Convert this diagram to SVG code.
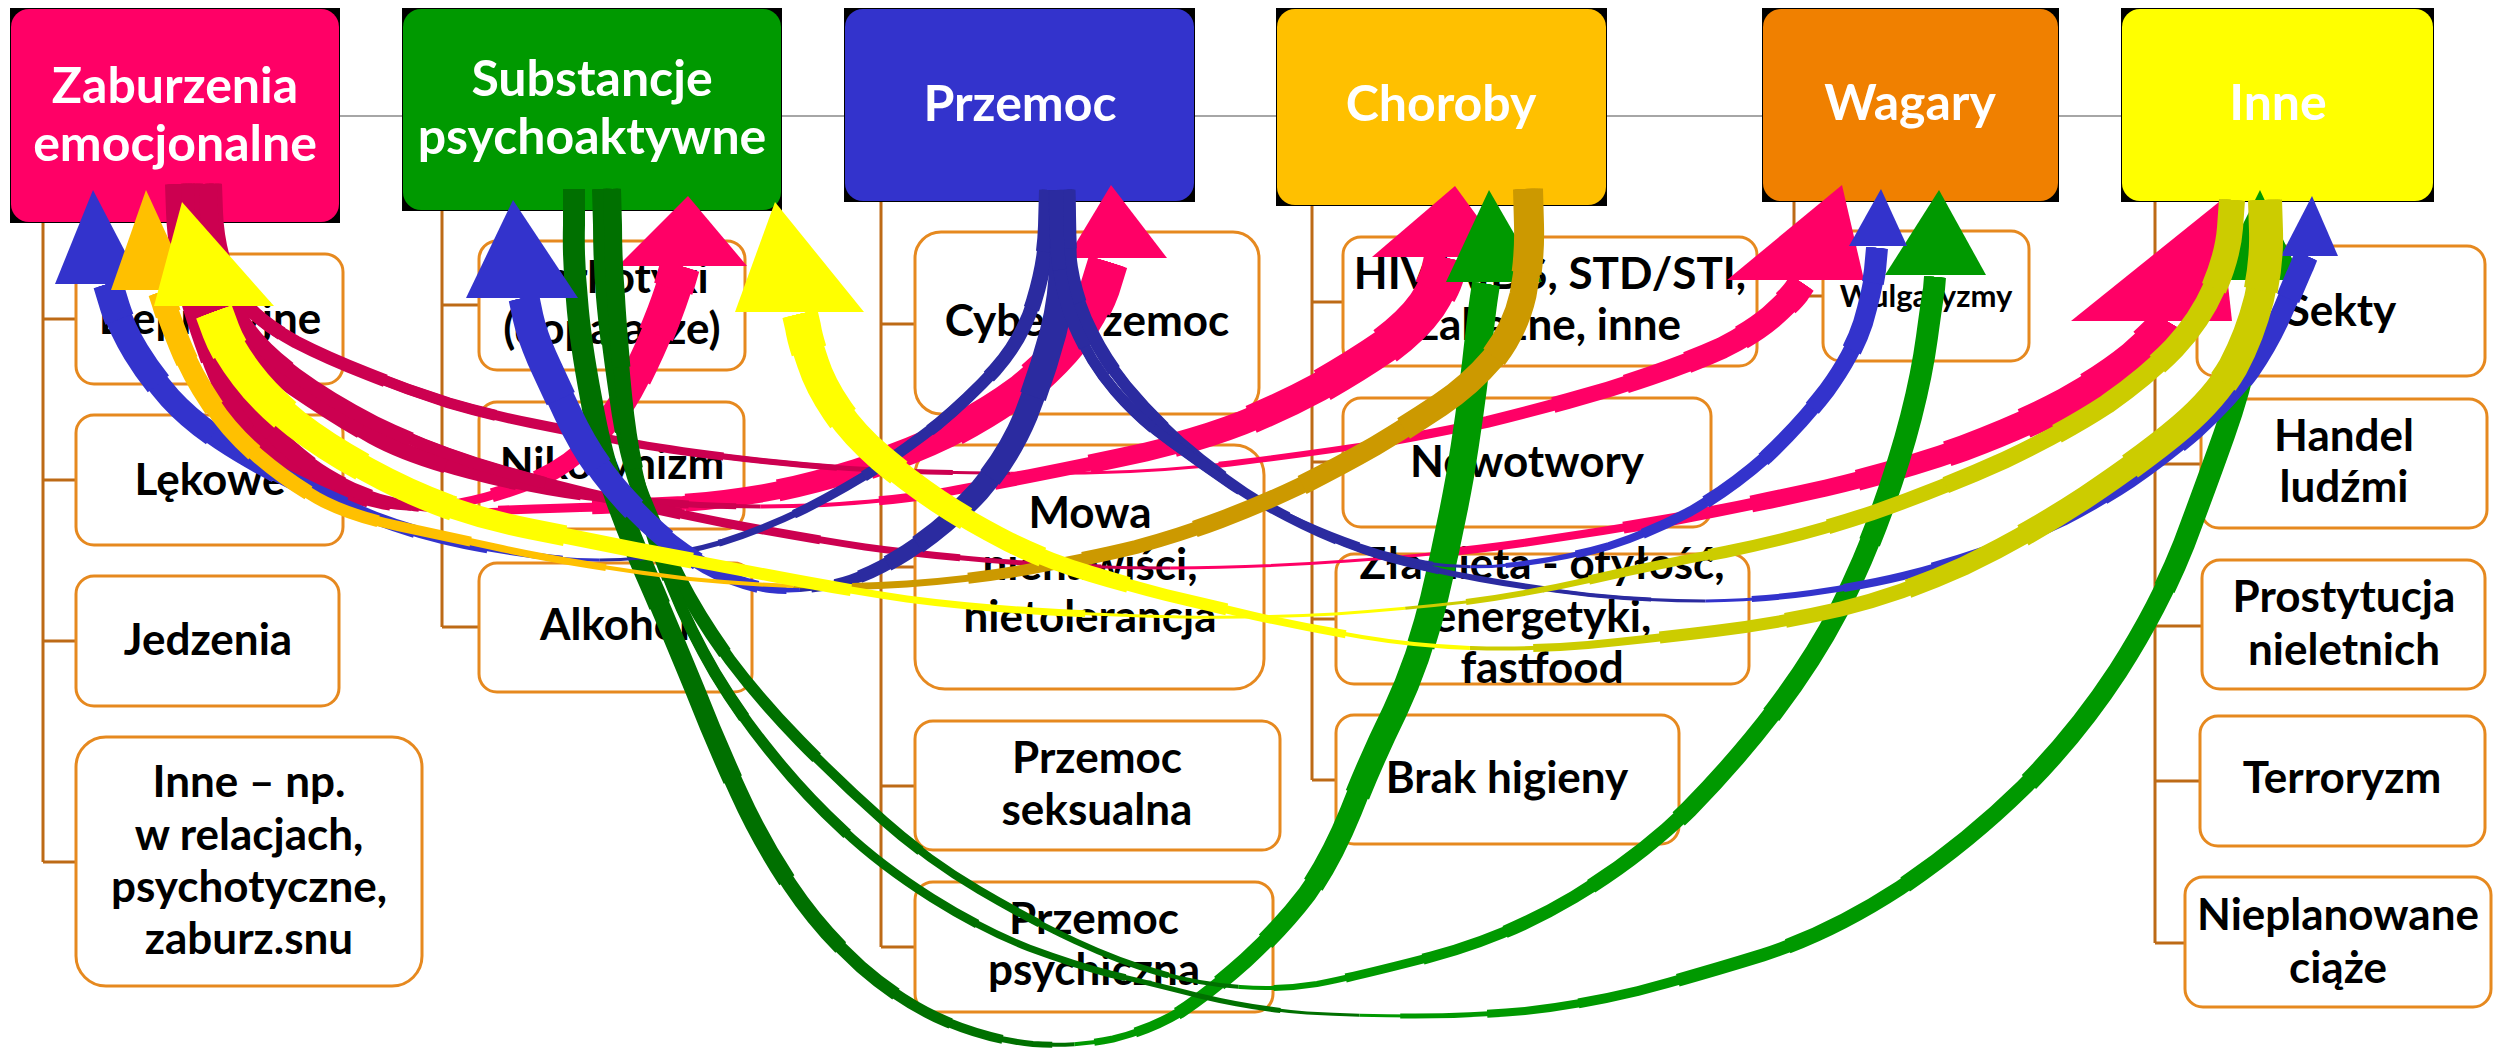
<svg xmlns="http://www.w3.org/2000/svg" width="2496" height="1048" viewBox="0 0 2496 1048">
<style>
text{font-family:Lato,"Open Sans","Liberation Sans",sans-serif;font-weight:700}
.hd{fill:#fff;font-size:50px;text-anchor:middle}
.ch{fill:#000;font-size:44px;text-anchor:middle}
.box{fill:#fff;stroke:#E6891F;stroke-width:3}
.tree{stroke:#BD6A16;stroke-width:3;fill:none}
.rb use{fill:none;stroke-linecap:butt}
.ps{stroke:#CC0050}.ph{stroke:#FF0066}.phf{fill:#FF0066}
.bs{stroke:#2B2BA0}.bh{stroke:#3333CC}.bhf{fill:#3333CC}
.gs{stroke:#007000}.gh{stroke:#009900}.ghf{fill:#009900}
.os{stroke:#CC9900}.oh{stroke:#FFC000}.ohf{fill:#FFC000}
.ys{stroke:#CCCC00}.yh{stroke:#FFFF00}.yhf{fill:#FFFF00}
</style>
<defs>
<path id="aP1" pathLength="100" d="M180,184 L181,212 Q182,240 189,273 Q196,305 213,352 Q229,399 258,432 Q286,464 317,481 Q347,497 384,504 Q420,510 460,503 Q500,495 536,480 Q571,464 596,437 Q620,410 635,380 Q650,350 660,325 Q670,300 675,283 L680,266"/>
<path id="aP2" pathLength="100" d="M192,184 L193,212 Q194,240 201,273 Q208,305 224,350 Q240,395 270,429 Q300,462 335,481 Q370,500 410,506 Q450,512 505,510 Q560,508 601,507 Q642,505 683,503 Q723,500 764,493 Q805,486 856,470 Q907,454 948,434 Q989,413 1020,390 Q1050,366 1071,340 Q1091,313 1100,288 L1108,262"/>
<path id="aP5" pathLength="100" d="M204,184 L205,212 Q206,240 214,270 Q222,300 237,329 Q252,358 294,387 Q335,415 372,436 Q408,456 470,472 Q531,488 586,495 Q640,502 700,505 Q760,508 824,505 Q887,501 928,495 Q968,488 1030,476 Q1091,464 1146,452 Q1201,439 1242,423 Q1282,407 1319,387 Q1356,366 1385,346 Q1413,325 1427,305 Q1440,285 1443,272 L1446,258"/>
<path id="aP3" pathLength="100" d="M214,184 L215,212 Q216,240 224,265 Q232,290 249,308 Q265,325 296,342 Q327,358 368,374 Q408,390 449,403 Q490,415 531,423 Q571,431 626,442 Q680,452 763,461 Q846,470 928,472 Q1009,474 1085,473 Q1160,472 1242,462 Q1323,452 1385,442 Q1446,431 1487,422 Q1527,412 1568,401 Q1609,390 1650,376 Q1691,362 1722,348 Q1752,333 1771,317 Q1790,300 1796,292 L1802,283"/>
<path id="aP4" pathLength="100" d="M208,184 L209,212 Q210,240 218,269 Q226,298 244,324 Q262,350 296,375 Q330,400 375,423 Q420,445 475,463 Q530,480 590,494 Q650,508 725,523 Q800,537 865,547 Q930,556 1010,562 Q1090,568 1170,568 Q1250,568 1348,561 Q1446,554 1523,543 Q1600,532 1675,519 Q1750,505 1826,488 Q1902,470 1964,448 Q2025,425 2066,403 Q2107,380 2134,358 Q2160,335 2164,329 L2168,322"/>
<path id="aG1" pathLength="100" d="M574,189 L574,225 Q573,260 577,300 Q580,340 591,398 Q601,456 617,501 Q633,545 654,592 Q674,639 695,690 Q715,741 738,791 Q760,840 790,885 Q820,930 861,967 Q902,1003 947,1022 Q991,1040 1033,1044 Q1075,1047 1113,1039 Q1150,1030 1180,1012 Q1209,993 1246,960 Q1282,927 1307,894 Q1331,860 1351,811 Q1370,762 1395,711 Q1419,660 1434,599 Q1449,537 1460,476 Q1470,415 1476,363 Q1482,310 1484,297 L1486,284"/>
<path id="aG2" pathLength="100" d="M602,189 L603,225 Q603,260 606,297 Q609,333 618,395 Q626,456 642,497 Q658,537 679,578 Q700,619 730,660 Q760,700 800,741 Q840,782 884,821 Q928,860 979,890 Q1030,920 1075,941 Q1120,962 1160,973 Q1199,984 1240,987 Q1280,990 1317,984 Q1354,977 1431,957 Q1507,937 1574,897 Q1640,857 1689,809 Q1737,760 1775,710 Q1813,660 1839,610 Q1864,560 1882,510 Q1900,460 1911,417 Q1922,374 1927,337 Q1932,300 1934,289 L1935,277"/>
<path id="aG3" pathLength="100" d="M612,189 L613,225 Q613,260 616,297 Q618,333 624,395 Q630,456 643,501 Q655,545 673,588 Q690,630 715,673 Q740,715 773,755 Q805,795 843,830 Q880,865 932,898 Q983,930 1029,948 Q1075,965 1110,974 Q1145,982 1200,996 Q1254,1009 1307,1013 Q1360,1016 1415,1016 Q1470,1016 1525,1011 Q1580,1005 1638,991 Q1695,976 1763,955 Q1831,933 1900,888 Q1968,842 2023,788 Q2077,734 2118,671 Q2159,607 2184,544 Q2208,480 2224,435 Q2240,390 2248,350 Q2256,310 2258,296 L2260,282"/>
<path id="aB1" pathLength="100" d="M1048,190 L1047,226 Q1046,262 1034,301 Q1022,340 995,370 Q968,399 938,424 Q907,448 877,468 Q846,488 805,509 Q764,529 723,542 Q682,554 641,558 Q600,562 555,558 Q510,553 465,544 Q420,535 375,518 Q330,500 290,480 Q250,460 220,440 Q190,420 170,398 Q150,375 136,352 Q122,329 115,307 L108,284"/>
<path id="aB2" pathLength="100" d="M1062,190 L1063,241 Q1064,292 1053,333 Q1042,374 1026,415 Q1009,456 979,491 Q948,525 907,552 Q866,578 833,585 Q800,592 770,589 Q740,585 707,567 Q674,548 648,523 Q621,497 603,473 Q584,448 568,414 Q552,380 542,358 Q532,335 528,317 L524,298"/>
<path id="aB3" pathLength="100" d="M1066,190 L1067,235 Q1068,280 1085,319 Q1102,357 1126,386 Q1150,415 1180,442 Q1210,468 1245,492 Q1280,515 1330,535 Q1380,555 1425,563 Q1470,570 1519,564 Q1568,558 1609,546 Q1650,533 1691,511 Q1731,488 1766,457 Q1800,425 1827,390 Q1853,354 1863,323 Q1872,292 1875,270 L1877,248"/>
<path id="aB4" pathLength="100" d="M1056,190 L1057,238 Q1058,285 1074,324 Q1090,362 1115,391 Q1140,420 1171,442 Q1201,464 1232,485 Q1262,505 1303,525 Q1344,545 1387,558 Q1430,570 1480,579 Q1530,588 1590,595 Q1650,601 1705,601 Q1760,600 1811,593 Q1862,586 1903,576 Q1943,566 1984,552 Q2025,537 2063,519 Q2100,500 2130,480 Q2160,460 2195,430 Q2229,399 2250,370 Q2270,341 2284,308 Q2298,275 2302,266 L2306,256"/>
<path id="aO" pathLength="100" d="M1528,189 L1529,225 Q1530,260 1523,295 Q1515,330 1493,358 Q1470,385 1440,405 Q1410,425 1375,446 Q1340,466 1300,486 Q1260,505 1220,520 Q1180,535 1136,547 Q1091,558 1030,569 Q968,580 907,584 Q846,588 793,586 Q740,584 690,579 Q640,573 590,565 Q540,557 495,547 Q449,537 398,526 Q347,515 317,498 Q286,480 258,456 Q229,431 211,403 Q192,375 180,345 Q168,315 165,304 L161,292"/>
<path id="aY1" pathLength="100" d="M2232,200 L2230,228 Q2228,255 2214,288 Q2200,320 2174,348 Q2147,376 2107,404 Q2066,431 2005,460 Q1943,488 1872,513 Q1800,537 1725,552 Q1650,566 1589,580 Q1527,594 1466,602 Q1405,609 1335,614 Q1264,618 1182,617 Q1100,615 1034,611 Q968,607 907,599 Q846,590 773,576 Q700,562 636,550 Q571,537 531,529 Q490,521 449,507 Q408,492 368,470 Q327,448 296,424 Q265,399 247,375 Q228,350 221,331 L214,312"/>
<path id="aY2" pathLength="100" d="M2265,200 L2266,231 Q2267,262 2259,299 Q2250,335 2233,367 Q2215,398 2181,427 Q2147,456 2086,497 Q2025,537 1964,566 Q1902,594 1841,609 Q1780,623 1715,631 Q1650,639 1588,645 Q1525,650 1471,648 Q1416,646 1362,637 Q1308,628 1254,616 Q1200,603 1166,595 Q1131,586 1091,574 Q1050,562 1009,542 Q968,521 938,501 Q907,480 881,458 Q854,435 837,410 Q820,385 813,363 Q805,340 803,327 L800,314"/>
</defs>
<rect width="2496" height="1048" fill="#fff"/>
<g id="connectors-tree">
<path d="M340,116 H2121" stroke="#A6A6A6" stroke-width="2"/>
<path class="tree" d="M43,223 V862 M43,319 H76 M43,480 H76 M43,641 H76 M43,862 H76 M442,211 V627 M442,305 H479 M442,466 H479 M442,627 H479 M881,202 V947 M881,324 H915 M881,567 H915 M881,786 H915 M881,947 H915 M1312,206 V780 M1312,302 H1343 M1312,462 H1343 M1312,619 H1336 M1312,780 H1336 M1794,202 V296 H1823 M2155,202 V943 M2155,311 H2197 M2155,464 H2201 M2155,626 H2202 M2155,781 H2200 M2155,943 H2185"/>
</g>
<g id="node-zaburzenia"><rect x="10" y="8" width="330" height="215" fill="#000"/><rect x="11" y="9" width="328" height="213" rx="18" fill="#FF0066"/><text class="hd" x="175" y="103">Zaburzenia</text><text class="hd" x="175" y="161">emocjonalne</text></g>
<g id="node-substancje"><rect x="402" y="8" width="380" height="203" fill="#000"/><rect x="403" y="9" width="378" height="201" rx="18" fill="#009900"/><text class="hd" x="592" y="96">Substancje</text><text class="hd" x="592" y="154">psychoaktywne</text></g>
<g id="node-przemoc"><rect x="844" y="8" width="351" height="194" fill="#000"/><rect x="845" y="9" width="349" height="192" rx="18" fill="#3333CC"/><text class="hd" x="1020" y="121">Przemoc</text></g>
<g id="node-choroby"><rect x="1276" y="8" width="331" height="198" fill="#000"/><rect x="1277" y="9" width="329" height="196" rx="18" fill="#FFC000"/><text class="hd" x="1441" y="121">Choroby</text></g>
<g id="node-wagary"><rect x="1762" y="8" width="297" height="194" fill="#000"/><rect x="1763" y="9" width="295" height="192" rx="18" fill="#F08000"/><text class="hd" x="1910" y="120">Wagary</text></g>
<g id="node-inne"><rect x="2121" y="8" width="313" height="194" fill="#000"/><rect x="2122" y="9" width="311" height="192" rx="18" fill="#FFFF00"/><text class="hd" x="2278" y="120">Inne</text></g>

<g id="node-depresyjne"><rect class="box" x="76" y="254" width="267" height="130" rx="18"/><text class="ch" x="210" y="334">Depresyjne</text></g>
<g id="node-lekowe"><rect class="box" x="76" y="415" width="267" height="130" rx="18"/><text class="ch" x="210" y="495">Lękowe</text></g>
<g id="node-jedzenia"><rect class="box" x="76" y="576" width="263" height="130" rx="18"/><text class="ch" x="208" y="655">Jedzenia</text></g>
<g id="node-inne-np"><rect class="box" x="76" y="737" width="346" height="249" rx="30"/><text class="ch" x="249" y="797">Inne – np.</text><text class="ch" x="249" y="850">w relacjach,</text><text class="ch" x="249" y="902">psychotyczne,</text><text class="ch" x="249" y="954">zaburz.snu</text></g>
<g id="node-narkotyki"><rect class="box" x="479" y="241" width="266" height="129" rx="18"/><text class="ch" x="612" y="293">Narkotyki</text><text class="ch" x="612" y="344">(dopalacze)</text></g>
<g id="node-nikotynizm"><rect class="box" x="479" y="402" width="265" height="127" rx="18"/><text class="ch" x="612" y="479">Nikotynizm</text></g>
<g id="node-alkohol"><rect class="box" x="479" y="563" width="273" height="129" rx="18"/><text class="ch" x="615" y="640">Alkohol</text></g>
<g id="node-cyber"><rect class="box" x="915" y="232" width="344" height="182" rx="26"/><text class="ch" x="1087" y="336">Cyberprzemoc</text></g>
<g id="node-mowa"><rect class="box" x="915" y="445" width="349" height="244" rx="30"/><text class="ch" x="1090" y="528">Mowa</text><text class="ch" x="1090" y="580">nienawiści,</text><text class="ch" x="1090" y="632">nietolerancja</text></g>
<g id="node-seksualna"><rect class="box" x="915" y="721" width="365" height="129" rx="18"/><text class="ch" x="1097" y="773">Przemoc</text><text class="ch" x="1097" y="825">seksualna</text></g>
<g id="node-psychiczna"><rect class="box" x="915" y="882" width="358" height="130" rx="18"/><text class="ch" x="1094" y="934">Przemoc</text><text class="ch" x="1094" y="985">psychiczna</text></g>
<g id="node-hiv"><rect class="box" x="1343" y="237" width="414" height="129" rx="18"/><text class="ch" x="1550" y="289">HIV/AIDS, STD/STI,</text><text class="ch" x="1550" y="340">zakaźne, inne</text></g>
<g id="node-nowotwory"><rect class="box" x="1343" y="398" width="368" height="129" rx="18"/><text class="ch" x="1527" y="477">Nowotwory</text></g>
<g id="node-dieta"><rect class="box" x="1336" y="554" width="413" height="130" rx="18"/><text class="ch" x="1542" y="579">Zła dieta - otyłość,</text><text class="ch" x="1542" y="632">energetyki,</text><text class="ch" x="1542" y="683">fastfood</text></g>
<g id="node-higiena"><rect class="box" x="1336" y="715" width="343" height="129" rx="18"/><text class="ch" x="1507" y="793">Brak higieny</text></g>
<g id="node-wulgaryzmy"><rect class="box" x="1823" y="231" width="206" height="130" rx="18"/><text class="ch" x="1926" y="307" style="font-size:31px">Wulgaryzmy</text></g>
<g id="node-sekty"><rect class="box" x="2197" y="246" width="288" height="130" rx="18"/><text class="ch" x="2341" y="326">Sekty</text></g>
<g id="node-handel"><rect class="box" x="2201" y="399" width="286" height="129" rx="18"/><text class="ch" x="2344" y="451">Handel</text><text class="ch" x="2344" y="502">ludźmi</text></g>
<g id="node-prostytucja"><rect class="box" x="2202" y="560" width="283" height="129" rx="18"/><text class="ch" x="2344" y="612">Prostytucja</text><text class="ch" x="2344" y="665">nieletnich</text></g>
<g id="node-terroryzm"><rect class="box" x="2200" y="716" width="285" height="130" rx="18"/><text class="ch" x="2342" y="793">Terroryzm</text></g>
<g id="node-nieplanowane"><rect class="box" x="2185" y="877" width="306" height="130" rx="18"/><text class="ch" x="2338" y="930">Nieplanowane</text><text class="ch" x="2338" y="983">ciąże</text></g>

<g id="connectors-arrows" class="rb">
<g id="arrow-zab-sub">
<g class="ps"><use href="#aP1" stroke-width="5" stroke-dasharray="53.8 200"/><use href="#aP1" stroke-width="8" stroke-dasharray="52.7 200"/><use href="#aP1" stroke-width="11" stroke-dasharray="50.2 200"/><use href="#aP1" stroke-width="14" stroke-dasharray="47.5 200"/><use href="#aP1" stroke-width="18" stroke-dasharray="44.4 200"/><use href="#aP1" stroke-width="21" stroke-dasharray="40.8 200"/><use href="#aP1" stroke-width="24" stroke-dasharray="36.5 200"/><use href="#aP1" stroke-width="27" stroke-dasharray="30.8 200"/><use href="#aP1" stroke-width="30" stroke-dasharray="21.4 200"/></g>
<g class="ph"><use href="#aP1" stroke-width="5" stroke-dasharray="0 53.8 200"/><use href="#aP1" stroke-width="9" stroke-dasharray="0 56.7 200"/><use href="#aP1" stroke-width="14" stroke-dasharray="0 62.5 200"/><use href="#aP1" stroke-width="18" stroke-dasharray="0 68.2 200"/><use href="#aP1" stroke-width="22" stroke-dasharray="0 74 200"/><use href="#aP1" stroke-width="27" stroke-dasharray="0 79.8 200"/><use href="#aP1" stroke-width="31" stroke-dasharray="0 85.6 200"/><use href="#aP1" stroke-width="36" stroke-dasharray="0 91.3 200"/><use href="#aP1" stroke-width="40" stroke-dasharray="0 97.1 200"/></g>
<polygon class="phf" points="618,266 747,266 688,196"/>
</g>
<g id="arrow-zab-prz">
<g class="ps"><use href="#aP2" stroke-width="5" stroke-dasharray="38.3 200"/><use href="#aP2" stroke-width="7" stroke-dasharray="37.5 200"/><use href="#aP2" stroke-width="9" stroke-dasharray="35.7 200"/><use href="#aP2" stroke-width="11" stroke-dasharray="33.8 200"/><use href="#aP2" stroke-width="14" stroke-dasharray="31.6 200"/><use href="#aP2" stroke-width="16" stroke-dasharray="29.1 200"/><use href="#aP2" stroke-width="18" stroke-dasharray="26 200"/><use href="#aP2" stroke-width="20" stroke-dasharray="21.9 200"/><use href="#aP2" stroke-width="22" stroke-dasharray="15.2 200"/></g>
<g class="ph"><use href="#aP2" stroke-width="5" stroke-dasharray="0 38.3 200"/><use href="#aP2" stroke-width="9" stroke-dasharray="0 42.2 200"/><use href="#aP2" stroke-width="14" stroke-dasharray="0 49.9 200"/><use href="#aP2" stroke-width="18" stroke-dasharray="0 57.6 200"/><use href="#aP2" stroke-width="22" stroke-dasharray="0 65.3 200"/><use href="#aP2" stroke-width="27" stroke-dasharray="0 73 200"/><use href="#aP2" stroke-width="31" stroke-dasharray="0 80.7 200"/><use href="#aP2" stroke-width="36" stroke-dasharray="0 88.4 200"/><use href="#aP2" stroke-width="40" stroke-dasharray="0 96.1 200"/></g>
<polygon class="phf" points="1067,258 1167,258 1111,185"/>
</g>
<g id="arrow-zab-cho">
<g class="ps"><use href="#aP5" stroke-width="4" stroke-dasharray="48.6 200"/><use href="#aP5" stroke-width="6" stroke-dasharray="47 200"/><use href="#aP5" stroke-width="8" stroke-dasharray="43.8 200"/><use href="#aP5" stroke-width="10" stroke-dasharray="40.3 200"/><use href="#aP5" stroke-width="12" stroke-dasharray="36.5 200"/><use href="#aP5" stroke-width="14" stroke-dasharray="32.1 200"/><use href="#aP5" stroke-width="16" stroke-dasharray="27.2 200"/><use href="#aP5" stroke-width="18" stroke-dasharray="21 200"/><use href="#aP5" stroke-width="20" stroke-dasharray="12.2 200"/></g>
<g class="ph"><use href="#aP5" stroke-width="4" stroke-dasharray="0 48.6 200"/><use href="#aP5" stroke-width="9" stroke-dasharray="0 56.6 200"/><use href="#aP5" stroke-width="14" stroke-dasharray="0 64.5 200"/><use href="#aP5" stroke-width="19" stroke-dasharray="0 71 200"/><use href="#aP5" stroke-width="24" stroke-dasharray="0 76.8 200"/><use href="#aP5" stroke-width="29" stroke-dasharray="0 82.3 200"/><use href="#aP5" stroke-width="34" stroke-dasharray="0 87.6 200"/><use href="#aP5" stroke-width="39" stroke-dasharray="0 92.6 200"/><use href="#aP5" stroke-width="44" stroke-dasharray="0 97.6 200"/></g>
<polygon class="phf" points="1372,257 1507,257 1455,186"/>
</g>
<g id="arrow-zab-wag">
<g class="ps"><use href="#aP3" stroke-width="3" stroke-dasharray="52.6 200"/><use href="#aP3" stroke-width="5" stroke-dasharray="49.3 200"/><use href="#aP3" stroke-width="6" stroke-dasharray="42.7 200"/><use href="#aP3" stroke-width="8" stroke-dasharray="36.2 200"/><use href="#aP3" stroke-width="10" stroke-dasharray="29.6 200"/><use href="#aP3" stroke-width="11" stroke-dasharray="23 200"/><use href="#aP3" stroke-width="13" stroke-dasharray="16.4 200"/><use href="#aP3" stroke-width="14" stroke-dasharray="9.9 200"/><use href="#aP3" stroke-width="16" stroke-dasharray="5 200"/></g>
<g class="ph"><use href="#aP3" stroke-width="3" stroke-dasharray="0 52.6 200"/><use href="#aP3" stroke-width="6" stroke-dasharray="0 64.5 200"/><use href="#aP3" stroke-width="9" stroke-dasharray="0 73.1 200"/><use href="#aP3" stroke-width="12" stroke-dasharray="0 79.1 200"/><use href="#aP3" stroke-width="16" stroke-dasharray="0 83.9 200"/><use href="#aP3" stroke-width="19" stroke-dasharray="0 88.2 200"/><use href="#aP3" stroke-width="22" stroke-dasharray="0 91.9 200"/><use href="#aP3" stroke-width="25" stroke-dasharray="0 95.3 200"/><use href="#aP3" stroke-width="28" stroke-dasharray="0 98.5 200"/></g>
<polygon class="phf" points="1727,280 1864,280 1842,185"/>
</g>
<g id="arrow-zab-inn">
<g class="ps"><use href="#aP4" stroke-width="3" stroke-dasharray="51.8 200"/><use href="#aP4" stroke-width="5" stroke-dasharray="48.6 200"/><use href="#aP4" stroke-width="7" stroke-dasharray="42.1 200"/><use href="#aP4" stroke-width="9" stroke-dasharray="35.6 200"/><use href="#aP4" stroke-width="11" stroke-dasharray="29.1 200"/><use href="#aP4" stroke-width="12" stroke-dasharray="22.7 200"/><use href="#aP4" stroke-width="14" stroke-dasharray="16.2 200"/><use href="#aP4" stroke-width="16" stroke-dasharray="9.7 200"/><use href="#aP4" stroke-width="18" stroke-dasharray="4 200"/></g>
<g class="ph"><use href="#aP4" stroke-width="3" stroke-dasharray="0 51.8 200"/><use href="#aP4" stroke-width="8" stroke-dasharray="0 63.9 200"/><use href="#aP4" stroke-width="12" stroke-dasharray="0 72.7 200"/><use href="#aP4" stroke-width="17" stroke-dasharray="0 78.7 200"/><use href="#aP4" stroke-width="21" stroke-dasharray="0 83.7 200"/><use href="#aP4" stroke-width="26" stroke-dasharray="0 88 200"/><use href="#aP4" stroke-width="31" stroke-dasharray="0 91.8 200"/><use href="#aP4" stroke-width="35" stroke-dasharray="0 95.2 200"/><use href="#aP4" stroke-width="40" stroke-dasharray="0 98.5 200"/></g>
<polygon class="phf" points="2071,321 2232,321 2219,202"/>
</g>

<g id="arrow-sub-cho">
<g class="gs"><use href="#aG1" stroke-width="4" stroke-dasharray="53.8 200"/><use href="#aG1" stroke-width="6" stroke-dasharray="52.7 200"/><use href="#aG1" stroke-width="9" stroke-dasharray="50.2 200"/><use href="#aG1" stroke-width="11" stroke-dasharray="47.5 200"/><use href="#aG1" stroke-width="13" stroke-dasharray="44.4 200"/><use href="#aG1" stroke-width="15" stroke-dasharray="40.8 200"/><use href="#aG1" stroke-width="18" stroke-dasharray="36.5 200"/><use href="#aG1" stroke-width="20" stroke-dasharray="30.8 200"/><use href="#aG1" stroke-width="22" stroke-dasharray="21.4 200"/></g>
<g class="gh"><use href="#aG1" stroke-width="4" stroke-dasharray="0 53.8 200"/><use href="#aG1" stroke-width="7" stroke-dasharray="0 54.8 200"/><use href="#aG1" stroke-width="10" stroke-dasharray="0 56.9 200"/><use href="#aG1" stroke-width="13" stroke-dasharray="0 59.2 200"/><use href="#aG1" stroke-width="16" stroke-dasharray="0 61.8 200"/><use href="#aG1" stroke-width="19" stroke-dasharray="0 64.9 200"/><use href="#aG1" stroke-width="22" stroke-dasharray="0 68.6 200"/><use href="#aG1" stroke-width="25" stroke-dasharray="0 73.6 200"/><use href="#aG1" stroke-width="28" stroke-dasharray="0 81.7 200"/></g>
<polygon class="ghf" points="1446,282 1542,282 1489,190"/>
</g>
<g id="arrow-sub-wag">
<g class="gs"><use href="#aG2" stroke-width="4" stroke-dasharray="50.5 200"/><use href="#aG2" stroke-width="6" stroke-dasharray="47.3 200"/><use href="#aG2" stroke-width="8" stroke-dasharray="41 200"/><use href="#aG2" stroke-width="10" stroke-dasharray="34.7 200"/><use href="#aG2" stroke-width="12" stroke-dasharray="28.4 200"/><use href="#aG2" stroke-width="14" stroke-dasharray="22.1 200"/><use href="#aG2" stroke-width="16" stroke-dasharray="15.8 200"/><use href="#aG2" stroke-width="18" stroke-dasharray="11 200"/><use href="#aG2" stroke-width="20" stroke-dasharray="7 200"/></g>
<g class="gh"><use href="#aG2" stroke-width="4" stroke-dasharray="0 50.5 200"/><use href="#aG2" stroke-width="6" stroke-dasharray="0 52.1 200"/><use href="#aG2" stroke-width="9" stroke-dasharray="0 55.4 200"/><use href="#aG2" stroke-width="11" stroke-dasharray="0 59 200"/><use href="#aG2" stroke-width="13" stroke-dasharray="0 62.9 200"/><use href="#aG2" stroke-width="15" stroke-dasharray="0 67.3 200"/><use href="#aG2" stroke-width="18" stroke-dasharray="0 72.3 200"/><use href="#aG2" stroke-width="20" stroke-dasharray="0 78.6 200"/><use href="#aG2" stroke-width="22" stroke-dasharray="0 87.6 200"/></g>
<polygon class="ghf" points="1885,275 1986,275 1939,190"/>
</g>
<g id="arrow-sub-inn">
<g class="gs"><use href="#aG3" stroke-width="3" stroke-dasharray="49.5 200"/><use href="#aG3" stroke-width="5" stroke-dasharray="46.4 200"/><use href="#aG3" stroke-width="7" stroke-dasharray="40.2 200"/><use href="#aG3" stroke-width="9" stroke-dasharray="34 200"/><use href="#aG3" stroke-width="11" stroke-dasharray="27.8 200"/><use href="#aG3" stroke-width="12" stroke-dasharray="21.7 200"/><use href="#aG3" stroke-width="14" stroke-dasharray="15.5 200"/><use href="#aG3" stroke-width="16" stroke-dasharray="11 200"/><use href="#aG3" stroke-width="18" stroke-dasharray="7 200"/></g>
<g class="gh"><use href="#aG3" stroke-width="3" stroke-dasharray="0 49.5 200"/><use href="#aG3" stroke-width="5" stroke-dasharray="0 51.1 200"/><use href="#aG3" stroke-width="8" stroke-dasharray="0 54.5 200"/><use href="#aG3" stroke-width="10" stroke-dasharray="0 58.1 200"/><use href="#aG3" stroke-width="13" stroke-dasharray="0 62.1 200"/><use href="#aG3" stroke-width="15" stroke-dasharray="0 66.6 200"/><use href="#aG3" stroke-width="17" stroke-dasharray="0 71.8 200"/><use href="#aG3" stroke-width="20" stroke-dasharray="0 78.1 200"/><use href="#aG3" stroke-width="22" stroke-dasharray="0 87.4 200"/></g>
<polygon class="ghf" points="2215,280 2302,280 2260,190"/>
</g>

<g id="arrow-prz-zab">
<g class="bs"><use href="#aB1" stroke-width="3" stroke-dasharray="51.7 200"/><use href="#aB1" stroke-width="5" stroke-dasharray="48.5 200"/><use href="#aB1" stroke-width="7" stroke-dasharray="42 200"/><use href="#aB1" stroke-width="9" stroke-dasharray="35.5 200"/><use href="#aB1" stroke-width="11" stroke-dasharray="29.1 200"/><use href="#aB1" stroke-width="12" stroke-dasharray="22.6 200"/><use href="#aB1" stroke-width="14" stroke-dasharray="16.2 200"/><use href="#aB1" stroke-width="16" stroke-dasharray="9.7 200"/><use href="#aB1" stroke-width="18" stroke-dasharray="5 200"/></g>
<g class="bh"><use href="#aB1" stroke-width="3" stroke-dasharray="0 51.7 200"/><use href="#aB1" stroke-width="6" stroke-dasharray="0 54.7 200"/><use href="#aB1" stroke-width="10" stroke-dasharray="0 60.8 200"/><use href="#aB1" stroke-width="13" stroke-dasharray="0 66.8 200"/><use href="#aB1" stroke-width="17" stroke-dasharray="0 72.8 200"/><use href="#aB1" stroke-width="20" stroke-dasharray="0 78.9 200"/><use href="#aB1" stroke-width="23" stroke-dasharray="0 84.9 200"/><use href="#aB1" stroke-width="27" stroke-dasharray="0 90.9 200"/><use href="#aB1" stroke-width="30" stroke-dasharray="0 97 200"/></g>
<polygon class="bhf" points="55,284 142,284 93,190"/>
</g>
<g id="arrow-prz-sub">
<g class="bs"><use href="#aB2" stroke-width="5" stroke-dasharray="55.1 200"/><use href="#aB2" stroke-width="8" stroke-dasharray="53.9 200"/><use href="#aB2" stroke-width="11" stroke-dasharray="51.4 200"/><use href="#aB2" stroke-width="13" stroke-dasharray="48.7 200"/><use href="#aB2" stroke-width="16" stroke-dasharray="45.5 200"/><use href="#aB2" stroke-width="19" stroke-dasharray="41.8 200"/><use href="#aB2" stroke-width="22" stroke-dasharray="37.4 200"/><use href="#aB2" stroke-width="24" stroke-dasharray="31.5 200"/><use href="#aB2" stroke-width="27" stroke-dasharray="21.9 200"/></g>
<g class="bh"><use href="#aB2" stroke-width="5" stroke-dasharray="0 55.1 200"/><use href="#aB2" stroke-width="8" stroke-dasharray="0 56.5 200"/><use href="#aB2" stroke-width="12" stroke-dasharray="0 59.5 200"/><use href="#aB2" stroke-width="15" stroke-dasharray="0 62.8 200"/><use href="#aB2" stroke-width="18" stroke-dasharray="0 66.3 200"/><use href="#aB2" stroke-width="21" stroke-dasharray="0 70.3 200"/><use href="#aB2" stroke-width="25" stroke-dasharray="0 74.9 200"/><use href="#aB2" stroke-width="28" stroke-dasharray="0 80.6 200"/><use href="#aB2" stroke-width="31" stroke-dasharray="0 88.8 200"/></g>
<polygon class="bhf" points="466,298 578,298 513,200"/>
</g>
<g id="arrow-prz-wag">
<g class="bs"><use href="#aB3" stroke-width="3" stroke-dasharray="51.9 200"/><use href="#aB3" stroke-width="5" stroke-dasharray="48.7 200"/><use href="#aB3" stroke-width="7" stroke-dasharray="42.2 200"/><use href="#aB3" stroke-width="9" stroke-dasharray="35.7 200"/><use href="#aB3" stroke-width="11" stroke-dasharray="29.2 200"/><use href="#aB3" stroke-width="12" stroke-dasharray="22.7 200"/><use href="#aB3" stroke-width="14" stroke-dasharray="16.2 200"/><use href="#aB3" stroke-width="16" stroke-dasharray="9.7 200"/><use href="#aB3" stroke-width="18" stroke-dasharray="5 200"/></g>
<g class="bh"><use href="#aB3" stroke-width="3" stroke-dasharray="0 51.9 200"/><use href="#aB3" stroke-width="5" stroke-dasharray="0 54.9 200"/><use href="#aB3" stroke-width="8" stroke-dasharray="0 60.9 200"/><use href="#aB3" stroke-width="10" stroke-dasharray="0 66.9 200"/><use href="#aB3" stroke-width="13" stroke-dasharray="0 72.9 200"/><use href="#aB3" stroke-width="15" stroke-dasharray="0 79 200"/><use href="#aB3" stroke-width="17" stroke-dasharray="0 85 200"/><use href="#aB3" stroke-width="20" stroke-dasharray="0 91 200"/><use href="#aB3" stroke-width="22" stroke-dasharray="0 97 200"/></g>
<polygon class="bhf" points="1849,246 1907,246 1881,189"/>
</g>
<g id="arrow-prz-inn">
<g class="bs"><use href="#aB4" stroke-width="3" stroke-dasharray="53.8 200"/><use href="#aB4" stroke-width="4" stroke-dasharray="50.4 200"/><use href="#aB4" stroke-width="6" stroke-dasharray="43.7 200"/><use href="#aB4" stroke-width="7" stroke-dasharray="37 200"/><use href="#aB4" stroke-width="9" stroke-dasharray="30.3 200"/><use href="#aB4" stroke-width="10" stroke-dasharray="23.5 200"/><use href="#aB4" stroke-width="11" stroke-dasharray="16.8 200"/><use href="#aB4" stroke-width="13" stroke-dasharray="10.1 200"/><use href="#aB4" stroke-width="14" stroke-dasharray="5 200"/></g>
<g class="bh"><use href="#aB4" stroke-width="3" stroke-dasharray="0 53.8 200"/><use href="#aB4" stroke-width="6" stroke-dasharray="0 56.7 200"/><use href="#aB4" stroke-width="8" stroke-dasharray="0 62.5 200"/><use href="#aB4" stroke-width="11" stroke-dasharray="0 68.2 200"/><use href="#aB4" stroke-width="14" stroke-dasharray="0 74 200"/><use href="#aB4" stroke-width="16" stroke-dasharray="0 79.8 200"/><use href="#aB4" stroke-width="19" stroke-dasharray="0 85.6 200"/><use href="#aB4" stroke-width="21" stroke-dasharray="0 91.3 200"/><use href="#aB4" stroke-width="24" stroke-dasharray="0 97.1 200"/></g>
<polygon class="bhf" points="2281,256 2338,256 2312,196"/>
</g>

<g id="arrow-cho-zab">
<g class="os"><use href="#aO" stroke-width="4" stroke-dasharray="55.3 200"/><use href="#aO" stroke-width="7" stroke-dasharray="51.8 200"/><use href="#aO" stroke-width="11" stroke-dasharray="44.9 200"/><use href="#aO" stroke-width="14" stroke-dasharray="38 200"/><use href="#aO" stroke-width="17" stroke-dasharray="31.1 200"/><use href="#aO" stroke-width="20" stroke-dasharray="24.2 200"/><use href="#aO" stroke-width="24" stroke-dasharray="17.3 200"/><use href="#aO" stroke-width="27" stroke-dasharray="10.4 200"/><use href="#aO" stroke-width="30" stroke-dasharray="5 200"/></g>
<g class="oh"><use href="#aO" stroke-width="4" stroke-dasharray="0 55.3 200"/><use href="#aO" stroke-width="7" stroke-dasharray="0 66.5 200"/><use href="#aO" stroke-width="10" stroke-dasharray="0 74.7 200"/><use href="#aO" stroke-width="12" stroke-dasharray="0 80.3 200"/><use href="#aO" stroke-width="15" stroke-dasharray="0 84.8 200"/><use href="#aO" stroke-width="18" stroke-dasharray="0 88.8 200"/><use href="#aO" stroke-width="21" stroke-dasharray="0 92.4 200"/><use href="#aO" stroke-width="23" stroke-dasharray="0 95.6 200"/><use href="#aO" stroke-width="26" stroke-dasharray="0 98.6 200"/></g>
<polygon class="ohf" points="111,290 192,290 146,190"/>
</g>

<g id="arrow-inn-zab">
<g class="ys"><use href="#aY1" stroke-width="3" stroke-dasharray="43.5 200"/><use href="#aY1" stroke-width="6" stroke-dasharray="40.8 200"/><use href="#aY1" stroke-width="9" stroke-dasharray="35.3 200"/><use href="#aY1" stroke-width="12" stroke-dasharray="29.9 200"/><use href="#aY1" stroke-width="15" stroke-dasharray="24.5 200"/><use href="#aY1" stroke-width="17" stroke-dasharray="19 200"/><use href="#aY1" stroke-width="20" stroke-dasharray="13.6 200"/><use href="#aY1" stroke-width="23" stroke-dasharray="8.2 200"/><use href="#aY1" stroke-width="26" stroke-dasharray="4 200"/></g>
<g class="yh"><use href="#aY1" stroke-width="3" stroke-dasharray="0 43.5 200"/><use href="#aY1" stroke-width="7" stroke-dasharray="0 57.6 200"/><use href="#aY1" stroke-width="12" stroke-dasharray="0 68 200"/><use href="#aY1" stroke-width="16" stroke-dasharray="0 75.1 200"/><use href="#aY1" stroke-width="21" stroke-dasharray="0 80.8 200"/><use href="#aY1" stroke-width="25" stroke-dasharray="0 85.9 200"/><use href="#aY1" stroke-width="29" stroke-dasharray="0 90.3 200"/><use href="#aY1" stroke-width="34" stroke-dasharray="0 94.4 200"/><use href="#aY1" stroke-width="38" stroke-dasharray="0 98.2 200"/></g>
<polygon class="yhf" points="154,306 274,306 182,202"/>
</g>
<g id="arrow-inn-sub">
<g class="ys"><use href="#aY2" stroke-width="4" stroke-dasharray="56 200"/><use href="#aY2" stroke-width="8" stroke-dasharray="52.5 200"/><use href="#aY2" stroke-width="12" stroke-dasharray="45.5 200"/><use href="#aY2" stroke-width="15" stroke-dasharray="38.5 200"/><use href="#aY2" stroke-width="19" stroke-dasharray="31.5 200"/><use href="#aY2" stroke-width="23" stroke-dasharray="24.5 200"/><use href="#aY2" stroke-width="27" stroke-dasharray="17.5 200"/><use href="#aY2" stroke-width="30" stroke-dasharray="10.5 200"/><use href="#aY2" stroke-width="34" stroke-dasharray="5 200"/></g>
<g class="yh"><use href="#aY2" stroke-width="4" stroke-dasharray="0 56 200"/><use href="#aY2" stroke-width="8" stroke-dasharray="0 62.9 200"/><use href="#aY2" stroke-width="12" stroke-dasharray="0 69.6 200"/><use href="#aY2" stroke-width="16" stroke-dasharray="0 75.2 200"/><use href="#aY2" stroke-width="20" stroke-dasharray="0 80.2 200"/><use href="#aY2" stroke-width="24" stroke-dasharray="0 84.9 200"/><use href="#aY2" stroke-width="28" stroke-dasharray="0 89.4 200"/><use href="#aY2" stroke-width="32" stroke-dasharray="0 93.7 200"/><use href="#aY2" stroke-width="36" stroke-dasharray="0 97.9 200"/></g>
<polygon class="yhf" points="735,312 864,312 775,202"/>
</g>
</g>
</svg>
